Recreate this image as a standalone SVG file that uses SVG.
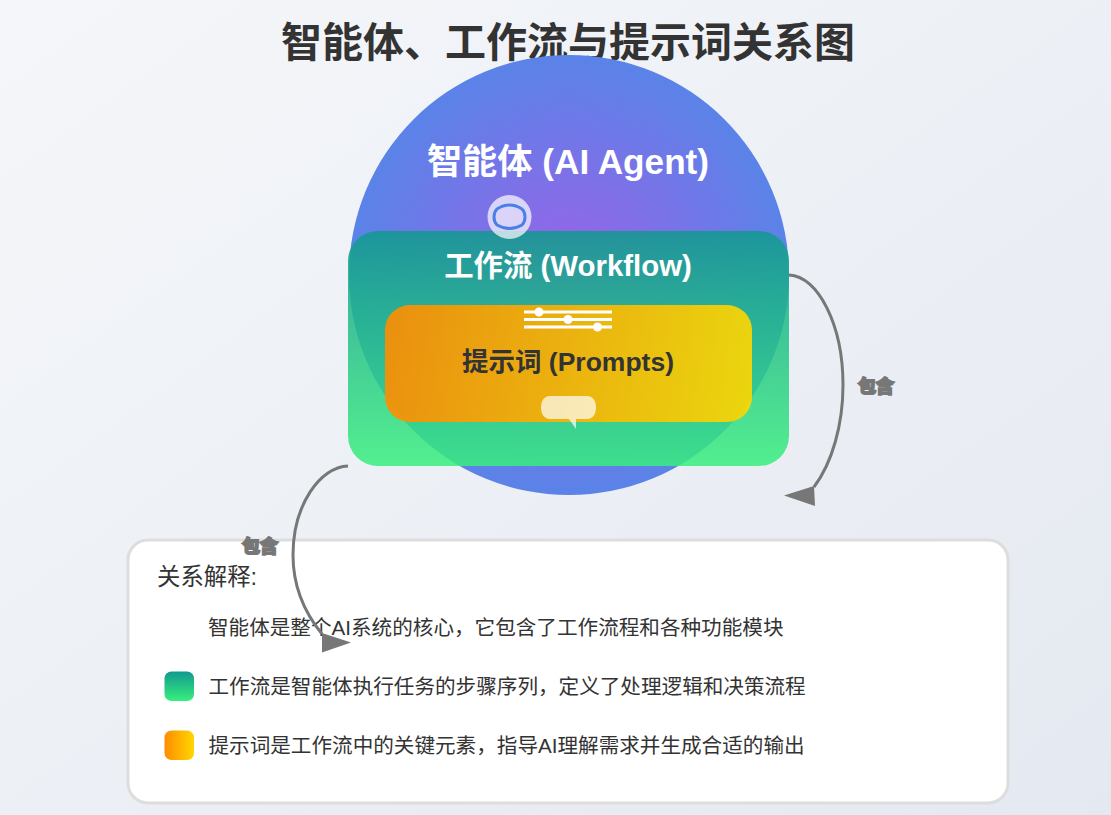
<svg xmlns="http://www.w3.org/2000/svg" width="1111" height="815" viewBox="0 0 1111 815">
<style>
text{font-family:"Liberation Sans","Noto Sans CJK SC",sans-serif}
.b{font-weight:700}
.t{font-size:20.6px;fill:#333}
.lbl{font-size:18px;font-weight:700;fill:#777;stroke:#777;stroke-width:2px;text-anchor:middle}
.conn{fill:none;stroke:#777;stroke-width:3}
.sl{stroke:#fff;stroke-width:3}
</style>
<defs>
<linearGradient id="bg" gradientUnits="userSpaceOnUse" x1="148" y1="-148" x2="963" y2="963"><stop offset="0" stop-color="#f5f7fa"/><stop offset="1" stop-color="#e4e8f0"/></linearGradient>
<radialGradient id="ag" cx="569" cy="275" r="220" gradientUnits="userSpaceOnUse"><stop offset="0" stop-color="#9a62e8"/><stop offset="1" stop-color="#5a83e8"/></radialGradient>
<linearGradient id="wf" x1="0" y1="0" x2="0" y2="1"><stop offset="0" stop-color="#11998e"/><stop offset="1" stop-color="#38ef7d"/></linearGradient>
<linearGradient id="pr" x1="0" y1="0" x2="1" y2="0"><stop offset="0" stop-color="#ff8c00"/><stop offset="1" stop-color="#ffd700"/></linearGradient>
<marker id="ahR" markerUnits="userSpaceOnUse" markerWidth="32" markerHeight="24" refX="30" refY="1" orient="0"><path d="M0 9.500L30 0L31 20Z" fill="#777"/></marker>
<marker id="ahL" markerUnits="userSpaceOnUse" markerWidth="32" markerHeight="24" refX="0" refY="1" orient="0"><path d="M29 9.500L0 0L0 19.500Z" fill="#777"/></marker>
</defs>
<rect width="1111" height="815" fill="url(#bg)"/>
<text class="b" x="568" y="57" font-size="41" fill="#333" text-anchor="middle">智能体、工作流与提示词关系图</text>
<g id="agent">
<circle cx="569" cy="275" r="220" fill="url(#ag)"/>
<text class="b" x="568" y="174" font-size="35.200" fill="#fff" text-anchor="middle">智能体 (AI Agent)</text>
</g>
<g id="workflow">
<rect x="348" y="231" width="441" height="235" rx="30" fill="url(#wf)" fill-opacity=".85"/>
<text class="b" x="568" y="276" font-size="29.400" fill="#fff" text-anchor="middle">工作流 (Workflow)</text>
</g>
<g id="agent-icon">
<circle cx="509.500" cy="217" r="22" fill="#fff" fill-opacity=".7"/>
<path d="M497 209Q503 205 509.500 205Q516 205 522 209Q525 212 525 217Q525 222 522 225Q516 228.500 509.500 228.500Q503 228.500 497 225Q494 222 494 217Q494 212 497 209Z" fill="none" stroke="#4a7fe8" stroke-width="3"/>
</g>
<g id="prompts">
<rect x="385" y="305" width="367" height="117" rx="25" fill="url(#pr)" fill-opacity=".9"/>
<g class="sl"><line x1="524" y1="312" x2="612" y2="312"/><line x1="524" y1="319.500" x2="612" y2="319.500"/><line x1="524" y1="327" x2="612" y2="327"/></g>
<circle cx="539" cy="312" r="4.500" fill="#fff"/><circle cx="568" cy="319.500" r="4.500" fill="#fff"/><circle cx="597.500" cy="327" r="4.500" fill="#fff"/>
<text class="b" x="568" y="371" font-size="26.500" fill="#333" text-anchor="middle">提示词 (Prompts)</text>
<path d="M550 396H587C593 396 596 401 596 407.500C596 414 593 419 587 419H576V429L569 419H550C544 419 541 414 541 407.500C541 401 544 396 550 396Z" fill="#fff" fill-opacity=".7"/>
</g>
<g id="legend">
<rect x="128" y="540" width="880" height="263" rx="20" fill="#fff" stroke="#ddd" stroke-width="3"/>
<text x="157" y="585" font-size="23.400" fill="#333">关系解释:</text>
<text class="t" x="208" y="635">智能体是整个AI系统的核心，它包含了工作流程和各种功能模块</text>
<rect x="164.500" y="671.500" width="29.500" height="29.500" rx="7" fill="url(#wf)"/>
<text class="t" x="208.500" y="694">工作流是智能体执行任务的步骤序列，定义了处理逻辑和决策流程</text>
<rect x="164.500" y="730.500" width="29.500" height="29.500" rx="7" fill="url(#pr)"/>
<text class="t" x="208.500" y="753">提示词是工作流中的关键元素，指导AI理解需求并生成合适的输出</text>
</g>
<g id="connectors">
<path class="conn" marker-end="url(#ahR)" d="M789 275C818 276 843 325 843 385C843 425 832 463 814 487"/>
<path class="conn" marker-end="url(#ahL)" d="M348 466C320 467 293 505 293 555C293 585 304 612 322 634"/>
<text class="lbl" x="876" y="393">包含</text>
<text class="lbl" x="260" y="553">包含</text>
</g>
</svg>
